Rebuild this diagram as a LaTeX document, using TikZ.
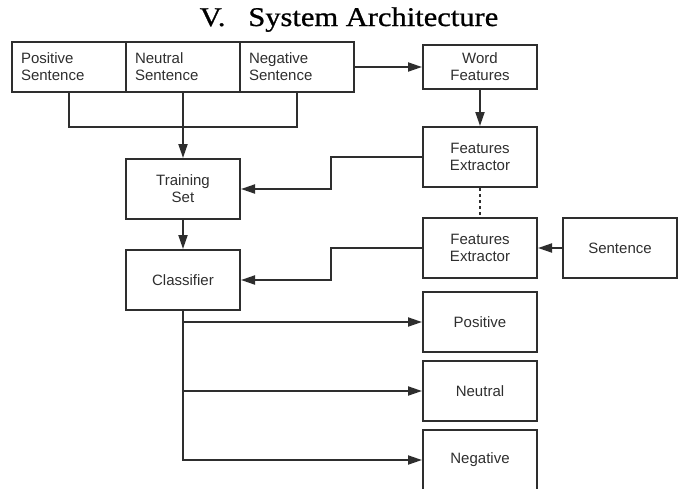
\documentclass[tikz,border=0pt]{standalone}
\usepackage{fontspec}
\setmainfont{Liberation Sans}
\newfontfamily\titlefont[BoldFont={Liberation Serif}, BoldFeatures={FakeBold=0.8}]{Liberation Serif}
\usetikzlibrary{arrows.meta}
\definecolor{ink}{HTML}{2E2E2E}
\begin{document}
\begin{tikzpicture}[x=1pt,y=-1pt,
  box/.style={draw=ink, line width=2pt, rectangle, minimum width=114pt,
    minimum height=60pt, inner sep=0pt, align=center,
    font=\fontsize{15}{17}\selectfont, text=ink},
  cell/.style={box, minimum height=50pt, text width=96pt, inner xsep=9pt, align=left},
  conn/.style={draw=ink, line width=2pt},
  flow/.style={conn, -{Triangle[length=14pt,width=9pt]}},
]
\useasboundingbox (0,0) rectangle (681,488);

% heading
\node[anchor=base, font=\titlefont\bfseries\fontsize{27}{30}\selectfont, text=black,
  xscale=1.13, inner sep=0pt]
  (title) at (349,26) {V.\hspace{0.75em}System Architecture};

% corpus row
\node[cell] (pos) at (69,67)  {Positive\\Sentence};
\node[cell] (neu) at (183,67) {Neutral\\Sentence};
\node[cell] (neg) at (297,67) {Negative\\Sentence};

% right column
\node[box, minimum height=44pt] (wf) at (480,67) {Word\\Features};
\node[box] (fe1) at (480,157) {Features\\Extractor};
\node[box] (fe2) at (480,248) {Features\\Extractor};
\node[box] (sen) at (620,248) {Sentence};

% left column
\node[box] (train) at (183,189) {Training\\Set};
\node[box] (cls)   at (183,280) {Classifier};

% outputs
\node[box] (opos) at (480,322) {Positive};
\node[box] (oneu) at (480,391) {Neutral};
\node[box] (oneg) at (480,460) {Negative};

% connectors
\coordinate (join) at (183,127);
\draw[conn] (pos.south) |- (join) -| (neg.south);
\draw[flow] (neu.south) -- (train.north);
\draw[flow] (neg.east) -- (wf.west);
\draw[flow] (wf) -- (fe1);
\draw[conn, line width=1.5pt, dash pattern=on 3pt off 3pt] (fe1.south) -- (fe2.north);
\draw[flow] (sen) -- (fe2);
\draw[flow] (fe1.west) -- ++(-91,0) |- (train.east);
\draw[flow] (fe2.west) -- ++(-91,0) |- (cls.east);
\draw[flow] (train) -- (cls);
\draw[flow] (cls.south) |- (oneg.west);
\draw[flow] (cls.south |- opos.west) -- (opos.west);
\draw[flow] (cls.south |- oneu.west) -- (oneu.west);
\end{tikzpicture}
\end{document}
